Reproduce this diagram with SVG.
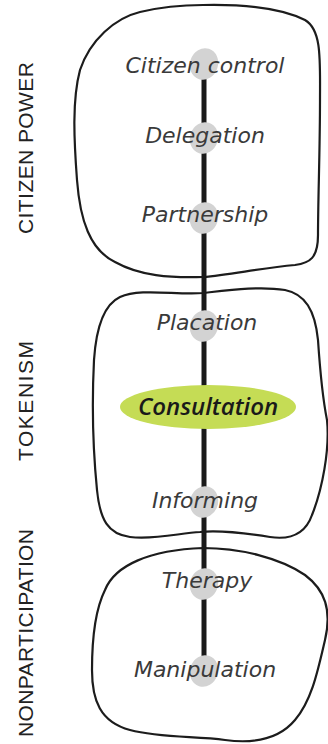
<svg xmlns="http://www.w3.org/2000/svg" width="328" height="744" viewBox="0 0 328 744">
<style>
.region{fill:none;stroke:#1c1c1c;stroke-width:2.2}
.dot{fill:#d3d3d3}
.step{font-family:"DejaVu Sans",sans-serif;font-style:italic;font-size:22px;fill:#3a3a3a;text-anchor:middle}
.key{font-family:"Open Sans","DejaVu Sans",sans-serif;font-style:italic;font-weight:600;font-size:24px;fill:#1a1a1a;text-anchor:middle}
.side{font-family:"Liberation Sans",Arial,sans-serif;font-size:21px;fill:#222;text-anchor:middle}
</style>
<rect width="328" height="744" fill="#fff"/>
<g id="region-citizen-power">
<path class="region" d="M203,5 C250,4 285,10 305,20 C322,30 320,60 320,100 C320,150 318,200 318,235 C318,258 310,263 295,265 C260,268 230,275 203,277 C170,278 140,276 115,262 C90,250 80,220 77,180 C74,140 72,100 80,70 C90,40 115,18 140,12 C165,6 185,5 203,5 Z"/>
<text class="side" transform="translate(33,148) rotate(-90)" textLength="172" lengthAdjust="spacing">CITIZEN POWER</text>
</g>
<g id="region-tokenism">
<path class="region" d="M203,293 C230,290 260,286 285,290 C305,294 315,310 318,340 C320,370 322,395 327,420 C330,450 322,490 312,515 C305,535 290,540 270,537 C245,533 220,530 200,532 C180,533 155,540 130,537 C108,534 100,520 97,490 C93,450 92,400 94,360 C96,330 103,305 120,297 C140,288 175,295 203,293 Z"/>
<text class="side" transform="translate(33,401) rotate(-90)" textLength="120" lengthAdjust="spacing">TOKENISM</text>
</g>
<g id="region-nonparticipation">
<path class="region" d="M203,548 C240,548 280,558 305,575 C325,590 332,610 325,640 C318,670 312,700 295,720 C280,738 255,744 225,740 C195,736 160,738 130,730 C100,722 92,700 92,670 C92,640 95,610 105,590 C115,565 150,550 203,548 Z"/>
<text class="side" transform="translate(33,633) rotate(-90)" textLength="208" lengthAdjust="spacing">NONPARTICIPATION</text>
</g>
<g id="connectors">
<line x1="204" y1="64" x2="204" y2="668" stroke="#1a1a1a" stroke-width="5"/>
</g>
<g id="citizen-control">
<ellipse class="dot" cx="204" cy="64" rx="14" ry="16" transform="rotate(18 204 64)"/>
<text class="step" x="205" y="73">Citizen control</text>
</g>
<g id="delegation">
<ellipse class="dot" cx="204" cy="138" rx="14" ry="16" transform="rotate(18 204 138)"/>
<text class="step" x="205" y="143">Delegation</text>
</g>
<g id="partnership">
<ellipse class="dot" cx="204" cy="218" rx="14" ry="16" transform="rotate(18 204 218)"/>
<text class="step" x="205" y="222">Partnership</text>
</g>
<g id="placation">
<ellipse class="dot" cx="204" cy="326" rx="14" ry="16" transform="rotate(18 204 326)"/>
<text class="step" x="207" y="330">Placation</text>
</g>
<g id="consultation">
<ellipse cx="208" cy="407" rx="88" ry="22" fill="#c5dc55"/>
<text class="key" x="208" y="415">Consultation</text>
</g>
<g id="informing">
<ellipse class="dot" cx="204" cy="502" rx="14" ry="16" transform="rotate(18 204 502)"/>
<text class="step" x="205" y="508">Informing</text>
</g>
<g id="therapy">
<ellipse class="dot" cx="204" cy="584" rx="14" ry="16" transform="rotate(18 204 584)"/>
<text class="step" x="207" y="588">Therapy</text>
</g>
<g id="manipulation">
<ellipse class="dot" cx="204" cy="671" rx="14" ry="16" transform="rotate(18 204 671)"/>
<text class="step" x="205" y="677">Manipulation</text>
</g>
</svg>
